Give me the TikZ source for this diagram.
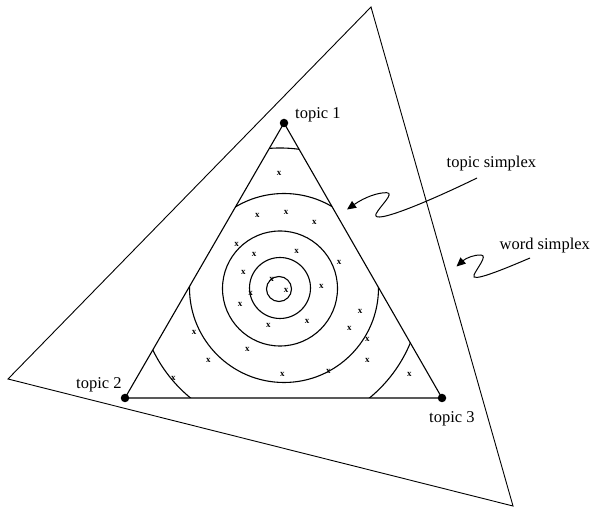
\documentclass[tikz,border=0pt]{standalone}
\usepackage{fontspec}
\setmainfont{Liberation Serif}
\usetikzlibrary{arrows.meta}
\begin{document}
\begin{tikzpicture}[x=1pt,y=-1pt,
  vertexdot/.style={circle,fill=black,inner sep=0pt,minimum size=8.5pt},
  lbl/.style={inner sep=0pt,anchor=base west,font=\fontsize{16.5}{18}\selectfont},
  xmark/.style={inner sep=0pt,font=\fontsize{9}{9}\selectfont\bfseries},
  simplexline/.style={line width=0.9pt},
  ringline/.style={line width=1.1pt},
  wavy/.style={line width=1pt,-{Triangle[length=9pt,width=8pt]}}]
\useasboundingbox (0,0) rectangle (611,518);
% word simplex (outer triangle)
\coordinate (w1) at (371,7);
\coordinate (w2) at (8,379);
\coordinate (w3) at (513,506);
\draw[simplexline] (w1) -- (w2) -- (w3) -- cycle;
% topic simplex vertices
\node[vertexdot] (t1) at (284,123) {};
\node[vertexdot] (t2) at (125,398) {};
\node[vertexdot] (t3) at (442,398) {};
\draw[ringline] (t1.center) -- (t2.center) -- (t3.center) -- cycle;
% rings clipped to the topic simplex
\begin{scope}
  \clip (t1.center) -- (t2.center) -- (t3.center) -- cycle;
  \draw[ringline] (279,289) circle[radius=12.5];
  \draw[ringline] (280,288) circle[radius=30.5];
  \draw[ringline] (280,288.5) circle[radius=57.5];
  \draw[ringline] (284,288) circle[radius=94.5];
  \draw[ringline] (280,289) circle[radius=141];
\end{scope}
% sample points
\foreach \px/\py [count=\i] in {314.3/222.7, 236.7/244, 254/254.7, 296.7/251, 339/262,
  243.3/272.3, 271.7/279.3, 321.3/286.3, 286/290, 250.7/293.3, 240/304, 360/311,
  268.3/325.3, 307/321.7, 349.3/328.7, 194/332.3, 367.3/339.3, 247.3/349.7,
  208.3/360.7, 367.3/360.7, 282.3/374.7, 328.3/371.3, 279/173.7, 257.3/215.7,
  286/212.3, 173.3/378.7, 409.3/374.3}
  \node[xmark] (x\i) at (\px,\py) {x};
% labels
\node[lbl] (l1) at (295,118.5) {topic 1};
\node[lbl] (l2) at (76,389) {topic 2};
\node[lbl] (l3) at (429,422.5) {topic 3};
\node[lbl] (lt) at (446.5,168) {topic simplex};
\node[lbl] (lw) at (499.5,250) {word simplex};
% wavy arrows
\coordinate (ta) at (477,178);
\coordinate (tb) at (376,214);
\coordinate (tc) at (386.7,192.7);
\coordinate (td) at (347,209.5);
\draw[wavy] (ta) .. controls (432,200) and (371,226) .. (tb)
  .. controls (380,206) and (395,193) .. (tc)
  .. controls (378,192.5) and (365,197) .. (td);
\coordinate (wa) at (530,258);
\coordinate (wb) at (474,275);
\coordinate (wc) at (481,255);
\coordinate (wd) at (456.5,266.5);
\draw[wavy] (wa) .. controls (502,270) and (470,283) .. (wb)
  .. controls (477,268) and (488,255.5) .. (wc)
  .. controls (475,254.5) and (466,258) .. (wd);
\end{tikzpicture}
\end{document}
